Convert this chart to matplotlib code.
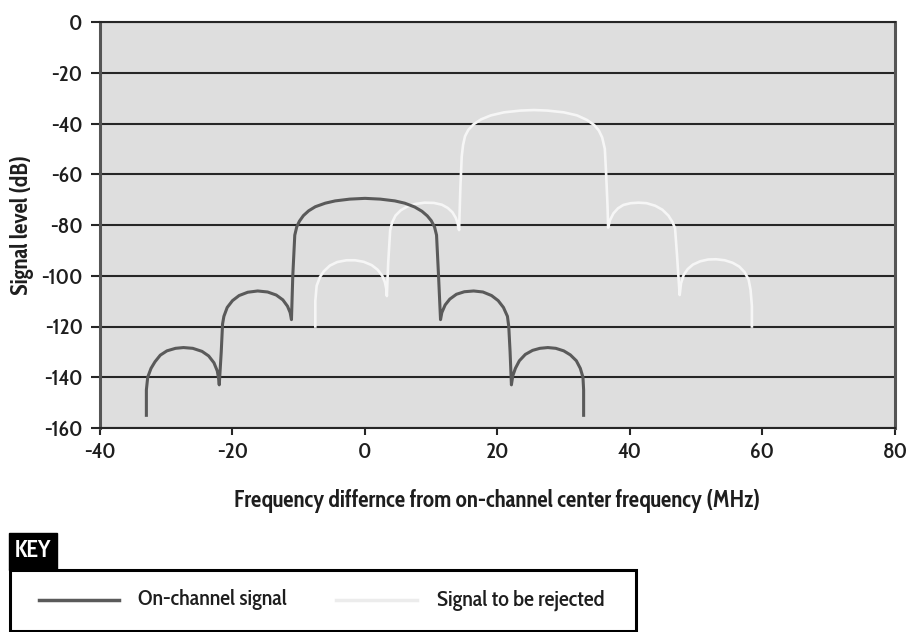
import numpy as np
import matplotlib.pyplot as plt
from matplotlib.patches import Rectangle
from matplotlib.lines import Line2D

# on-channel signal (MHz, dB)
on_x = [-33.0, -33.0, -32.8, -32.3, -31.7, -30.9, -29.9, -28.6, -27.4, -26.0, -24.6, -23.6, -22.8, -22.3, -22.1, -22.0,
        -21.7, -21.5, -21.3, -20.8, -20.0, -19.0, -17.7, -16.2, -14.7, -13.4, -12.4, -11.7, -11.3, -11.1,
        -10.9, -10.6, -10.3, -9.9, -9.3, -8.5, -7.5, -6.0, -4.5, -2.3, 0.0, 2.3, 4.5, 6.0, 7.5, 8.6, 9.4, 10.0, 10.5, 10.8, 11.1, 11.4,
        11.6, 12.1, 12.8, 13.8, 15.0, 16.4, 17.8, 19.1, 20.1, 20.9, 21.5, 21.7, 21.9, 22.1,
        22.3, 22.7, 23.3, 24.2, 25.3, 26.4, 27.6, 28.8, 30.0, 31.0, 31.9, 32.5, 32.9, 33.0, 33.0]
on_y = [-155, -145, -140, -136.5, -133.9, -131.3, -129.6, -128.6, -128.3, -128.6, -129.8, -131.6, -134.3, -137.5, -140.5, -143.0,
        -130, -119, -116, -112.5, -109.8, -107.8, -106.5, -106.0, -106.4, -107.6, -109.5, -112.0, -114.5, -117.3,
        -100, -84, -80.7, -78.5, -76.3, -74.4, -72.8, -71.4, -70.5, -69.8, -69.5, -69.8, -70.5, -71.4, -72.9, -74.6, -76.4, -78.3, -80.8, -84, -100, -117.3,
        -114.5, -111.5, -109.2, -107.3, -106.3, -106.0, -106.4, -107.8, -109.8, -112.5, -116, -120, -130, -143.0,
        -139.5, -136.5, -133.5, -131.0, -129.4, -128.6, -128.3, -128.6, -129.6, -131.2, -133.5, -136.5, -140, -145, -155]

# signal to be rejected
rej_x = [-7.5, -7.5, -7.3, -6.8, -6.2, -5.3, -4.2, -2.8, -1.5, -0.2, 1.0, 1.9, 2.6, 3.0, 3.2, 3.3,
         3.5, 3.8, 4.1, 4.6, 5.4, 6.4, 7.6, 9.0, 10.4, 11.6, 12.5, 13.2, 13.7, 14.0, 14.2,
         14.4, 14.6, 14.8, 15.1, 15.6, 16.4, 17.5, 19.0, 21.0, 23.5, 25.5, 27.5, 30.0, 32.0, 33.5, 34.6, 35.3, 35.8, 36.2, 36.4, 36.6, 36.7,
         37.0, 37.5, 38.2, 39.0, 40.1, 41.3, 42.5, 43.8, 44.9, 45.8, 46.4, 46.8, 47.1, 47.3, 47.5,
         47.7, 48.1, 48.7, 49.5, 50.6, 51.8, 53.0, 54.3, 55.5, 56.5, 57.3, 57.9, 58.2, 58.4, 58.4]
rej_y = [-120, -110, -104, -100.5, -98.2, -96.0, -94.6, -93.9, -93.9, -94.5, -95.8, -97.6, -100, -102.5, -105, -108,
         -95, -82, -79, -76.3, -74.2, -72.7, -71.7, -71.2, -71.3, -72.0, -73.3, -75.0, -77.2, -79.5, -82,
         -65, -53, -48.5, -45.0, -42.5, -40.3, -38.4, -36.8, -35.6, -34.9, -34.7, -34.9, -35.6, -36.8, -38.6, -40.6, -42.8, -45.5, -50, -60, -72, -81,
         -78, -75.4, -73.4, -72.1, -71.4, -71.2, -71.4, -72.4, -74.0, -76.3, -78.8, -81.3, -92, -100, -107.6,
         -103, -99.7, -97.4, -95.6, -94.3, -93.6, -93.5, -93.9, -94.9, -96.4, -98.6, -101.5, -105.6, -112, -120]

xticks = [-40, -20, 0, 20, 40, 60, 80]
yticks = [0, -20, -40, -60, -80, -100, -120, -140, -160]
labels = ["On-channel signal", "Signal to be rejected"]
colors = ["#5a5a5a", "#f6f6f6"]

W, H = 907, 632
plt.rcParams['font.family'] = ['Cabin Condensed', 'DejaVu Sans']
plt.rcParams['axes.unicode_minus'] = False

fig = plt.figure(figsize=(W/100, H/100), dpi=100, facecolor='white')
ax = fig.add_axes([100/W, 1-428/H, 795/W, 406/H])
ax.set_facecolor('#dedede')

for y in yticks:
    ax.axhline(y, color='#262626', lw=1.5, zorder=1)

ax.plot(rej_x, rej_y, color=colors[1], lw=1.9, zorder=3, solid_joinstyle='round')
ax.plot(on_x, on_y, color=colors[0], lw=2.2, zorder=4, solid_joinstyle='round')

ax.set_xlim(-40, 80)
ax.set_ylim(-160, 0)
ax.set_xticks(xticks)
ax.set_yticks(yticks)
ax.tick_params(axis='both', colors='#262626', labelcolor='#1e1e1e', labelsize=16, width=1.5)
ax.tick_params(axis='y', length=6.5, pad=6)
ax.tick_params(axis='x', length=5, pad=5)
for t in ax.get_xticklabels() + ax.get_yticklabels():
    t.set_fontweight(500)

for s in ['top', 'bottom']:
    ax.spines[s].set_color('#262626')
    ax.spines[s].set_linewidth(1.5)
for s in ['left', 'right']:
    ax.spines[s].set_color('#555555')
    ax.spines[s].set_linewidth(2.2)

ax.set_xlabel("Frequency differnce from on-channel center frequency (MHz)", fontsize=16.5, fontweight='bold', color='#1e1e1e')
ax.xaxis.set_label_coords(0.5, (428-489)/406)
ax.set_ylabel("Signal level (dB)", fontsize=16.5, fontweight='bold', color='#1e1e1e')
ax.yaxis.set_label_coords((34-100)/795, 0.5)

# key box below the chart
def fx(px):
    return px/W

def fy(py):
    return 1-py/H

fig.add_artist(Rectangle((fx(9), fy(570)), fx(57)-fx(9), fy(533)-fy(570), facecolor='black', edgecolor='black'))
fig.text(fx(33), fy(551), "KEY", color='white', fontsize=17, fontweight='bold', ha='center', va='center')
fig.add_artist(Rectangle((fx(10), fy(631)), fx(636)-fx(10), fy(570)-fy(631), facecolor='white', edgecolor='black', lw=2.2))

fig.add_artist(Line2D([fx(39), fx(119)], [fy(600), fy(600)], color=colors[0], lw=2.5))
fig.text(fx(138), fy(600), labels[0], fontsize=16, fontweight=500, color='#1e1e1e', va='center')
fig.add_artist(Line2D([fx(336), fx(417)], [fy(600), fy(600)], color='#ececec', lw=2.5))
fig.text(fx(437), fy(600), labels[1], fontsize=16, fontweight=500, color='#1e1e1e', va='center')

fig.savefig('out.png', dpi=100)
